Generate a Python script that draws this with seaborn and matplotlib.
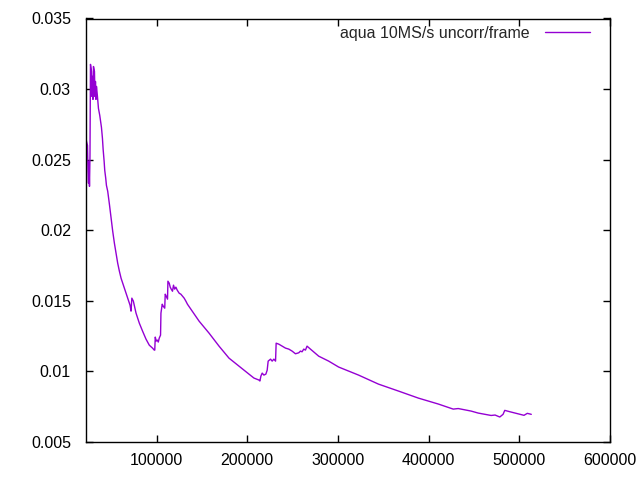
import matplotlib
matplotlib.use("Agg")
import matplotlib.pyplot as plt
import seaborn as sns
import pandas as pd

# samples (x, uncorr/frame)
x_vals = [21650, 21870, 22750, 23850, 24400, 24950, 25490, 26040, 26590, 27140,
          28240, 28790, 29340, 29890, 30440, 31540, 32090, 32640, 33190, 33740,
          34830, 35930, 37360, 39230, 40330, 41100, 42200, 42860, 43960, 44730,
          46150, 48020, 49890, 51650, 53520, 55390, 57140, 59010, 60880, 62640,
          64500, 66370, 68130, 70000, 70770, 71870, 72750, 74400, 77360, 80990,
          84610, 88350, 91980, 95600, 97470, 98020, 98570, 99670, 100770, 101870,
          102970, 104400, 104840, 106260, 107360, 109010, 109560, 110660, 112090, 112530,
          113960, 115060, 116160, 117580, 118680, 120000, 121320, 122750, 124950, 126810,
          128570, 130440, 132310, 134070, 146920, 157910, 168900, 179890, 190880, 201870,
          207360, 212860, 213960, 215060, 216480, 218350, 220550, 221980, 223070, 225710,
          227470, 229340, 231210, 231870, 234830, 238460, 242200, 245820, 249450, 253180,
          256810, 258680, 260440, 262310, 264180, 265940, 269680, 278790, 289780, 300770,
          322750, 344720, 366700, 388680, 410660, 427140, 432640, 446920, 454620, 468900,
          473300, 478460, 482090, 483950, 489790, 498590, 505180, 508800, 513200]
y_vals = [0.02807, 0.02665, 0.02630, 0.02601, 0.02417, 0.02333, 0.02488, 0.02311, 0.02524, 0.03175,
          0.03125, 0.02948, 0.03090, 0.02927, 0.03160, 0.03125, 0.02948, 0.03054, 0.02927, 0.03019,
          0.02948, 0.02863, 0.02814, 0.02729, 0.02651, 0.02573, 0.02488, 0.02425, 0.02368, 0.02318,
          0.02276, 0.02184, 0.02085, 0.01993, 0.01908, 0.01837, 0.01767, 0.01710, 0.01660, 0.01625,
          0.01590, 0.01554, 0.01519, 0.01483, 0.01469, 0.01427, 0.01519, 0.01498, 0.01413, 0.01342,
          0.01285, 0.01229, 0.01186, 0.01165, 0.01151, 0.01151, 0.01243, 0.01215, 0.01222, 0.01208,
          0.01236, 0.01257, 0.01413, 0.01476, 0.01462, 0.01448, 0.01547, 0.01533, 0.01512, 0.01639,
          0.01625, 0.01597, 0.01583, 0.01568, 0.01611, 0.01583, 0.01597, 0.01576, 0.01554, 0.01547,
          0.01533, 0.01519, 0.01498, 0.01476, 0.01356, 0.01271, 0.01179, 0.01094, 0.01038, 0.00981,
          0.00953, 0.00939, 0.00932, 0.00967, 0.00988, 0.00974, 0.00981, 0.01009, 0.01073, 0.01087,
          0.01073, 0.01087, 0.01073, 0.01200, 0.01193, 0.01179, 0.01165, 0.01158, 0.01144, 0.01125,
          0.01132, 0.01144, 0.01139, 0.01158, 0.01151, 0.01179, 0.01158, 0.01108, 0.01073, 0.01031,
          0.00974, 0.00910, 0.00861, 0.00811, 0.00769, 0.00733, 0.00737, 0.00719, 0.00705, 0.00688,
          0.00691, 0.00677, 0.00696, 0.00724, 0.00714, 0.00700, 0.00689, 0.00703, 0.00696]
series_label = "aqua 10MS/s uncorr/frame"
x_ticks = [100000, 200000, 300000, 400000, 500000, 600000]
x_tick_labels = ["100000", "200000", "300000", "400000", "500000", "600000"]
y_ticks = [0.005, 0.01, 0.015, 0.02, 0.025, 0.03, 0.035]
y_tick_labels = ["0.005", "0.01", "0.015", "0.02", "0.025", "0.03", "0.035"]

sns.set_theme(style="ticks")
plt.rcParams["font.family"] = ["Liberation Sans", "DejaVu Sans"]

df = pd.DataFrame({"x": x_vals, "y": y_vals, "series": series_label})

fig = plt.figure(figsize=(6.4, 4.8), dpi=100)
ax = fig.add_axes([85.5 / 640, 1 - 442 / 480, (610 - 85.5) / 640, (442 - 18.5) / 480])
sns.lineplot(data=df, x="x", y="y", hue="series", palette=["#9400D3"],
             sort=False, estimator=None, linewidth=1.0, ax=ax)

ax.set_xlim(x_vals[0], 600000)
ax.set_ylim(0.005, 0.035)
ax.set_xticks(x_ticks)
ax.set_xticklabels(x_tick_labels)
ax.set_yticks(y_ticks)
ax.set_yticklabels(y_tick_labels)
ax.set_xlabel("")
ax.set_ylabel("")
for s in ax.spines.values():
    s.set_visible(True)
    s.set_color("black")
    s.set_linewidth(1.0)
ax.tick_params(axis="both", direction="in", length=5, width=1, colors="black",
               labelsize=11.5, top=True, right=True)
ax.tick_params(axis="y", pad=10.5)
ax.tick_params(axis="x", pad=8)
ax.grid(False)

leg = ax.legend(loc="upper right", bbox_to_anchor=(590 / 640, 1 - 26 / 480),
                bbox_transform=fig.transFigure, frameon=False, markerfirst=False,
                fontsize=11.5, handlelength=2.8, handletextpad=1.0, borderpad=0,
                borderaxespad=0)

fig.savefig("out.png", dpi=100, facecolor="white")
